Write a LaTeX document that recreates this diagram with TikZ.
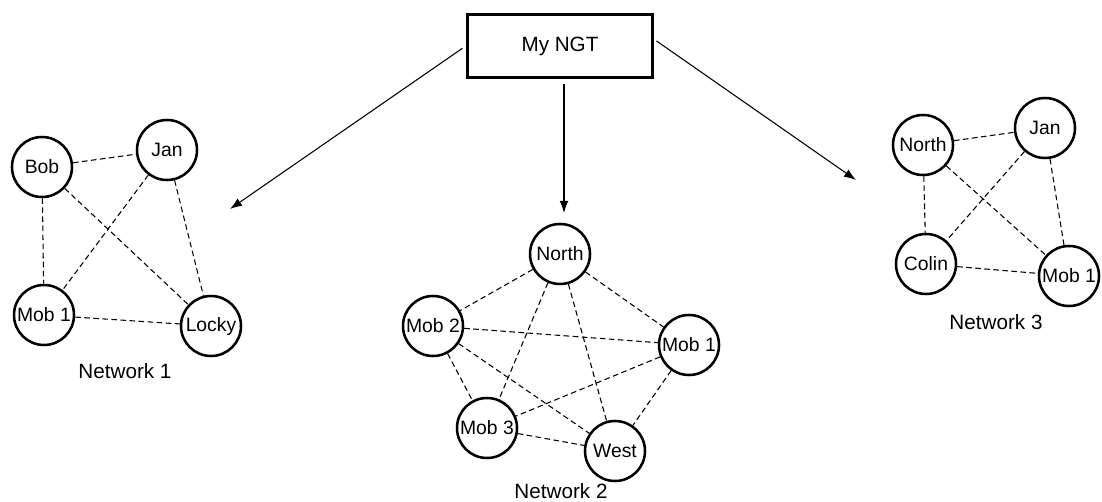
\documentclass[tikz,border=0pt]{standalone}
\usepackage{fontspec}
\setmainfont{Liberation Sans}
\usetikzlibrary{arrows.meta}
\tikzset{
    peer/.style = {draw, circle, line width=1.9pt, minimum size=45pt, inner sep=0pt, font=\fontsize{14.5}{16}\selectfont},
    ngt-box/.style = {draw, rectangle, line width=2.4pt, minimum width=139pt, minimum height=47pt, font=\fontsize{15.5}{18}\selectfont},
    net-title/.style = {font=\fontsize{15.5}{18}\selectfont},
    link/.style = {dash pattern=on 4.2pt off 2.6pt, line width=0.8pt},
    spread/.style = {-{Latex[length=9pt,width=6.5pt]}, line width=0.8pt},
}

\begin{document}
\begin{tikzpicture}[x=0.75pt,y=-0.75pt]
\useasboundingbox (0,0) rectangle (1102,502);

\node[ngt-box] (ngt) at (560,46) {My NGT};

% Network 1
\node[peer] (bob) at (42,167) {Bob};
\node[peer] (jan) at (167,150) {Jan};
\node[peer] (mob-a) at (44,315) {Mob 1};
\node[peer] (locky) at (211,326) {Locky};
\node[net-title] (net1) at (125,371) {Network 1};
\draw[link] (bob) -- (jan);
\draw[link] (bob) -- (mob-a);
\draw[link] (bob) -- (locky);
\draw[link] (jan) -- (mob-a);
\draw[link] (jan) -- (locky);
\draw[link] (mob-a) -- (locky);

% Network 2
\node[peer] (north-b) at (560,254) {North};
\node[peer] (mob2-b) at (433,326) {Mob 2};
\node[peer] (mob1-b) at (689,345) {Mob 1};
\node[peer] (mob3-b) at (487,428) {Mob 3};
\node[peer] (west-b) at (615,451) {West};
\node[net-title] (net2) at (561,491) {Network 2};
\draw[link] (north-b) -- (mob2-b);
\draw[link] (north-b) -- (mob1-b);
\draw[link] (north-b) -- (mob3-b);
\draw[link] (north-b) -- (west-b);
\draw[link] (mob2-b) -- (mob1-b);
\draw[link] (mob2-b) -- (mob3-b);
\draw[link] (mob2-b) -- (west-b);
\draw[link] (mob1-b) -- (mob3-b);
\draw[link] (mob1-b) -- (west-b);
\draw[link] (mob3-b) -- (west-b);

% Network 3
\node[peer] (north-c) at (923,145) {North};
\node[peer] (jan-c) at (1045,128) {Jan};
\node[peer] (colin-c) at (926,264) {Colin};
\node[peer] (mob1-c) at (1069,276) {Mob 1};
\node[net-title] (net3) at (996,322) {Network 3};
\draw[link] (north-c) -- (jan-c);
\draw[link] (north-c) -- (colin-c);
\draw[link] (north-c) -- (mob1-c);
\draw[link] (jan-c) -- (colin-c);
\draw[link] (jan-c) -- (mob1-c);
\draw[link] (colin-c) -- (mob1-c);

% arrows from the box
\coordinate (to-net1) at (230,209);
\coordinate (to-net2) at (564,213);
\coordinate (to-net3) at (856,180);
\draw[spread, shorten <=3pt] (ngt.west) -- (to-net1);
\draw[spread, shorten <=4pt] (to-net2 |- ngt.south) -- (to-net2);
\draw[spread, shorten <=2pt] (ngt.4) -- (to-net3);
\end{tikzpicture}
\end{document}
